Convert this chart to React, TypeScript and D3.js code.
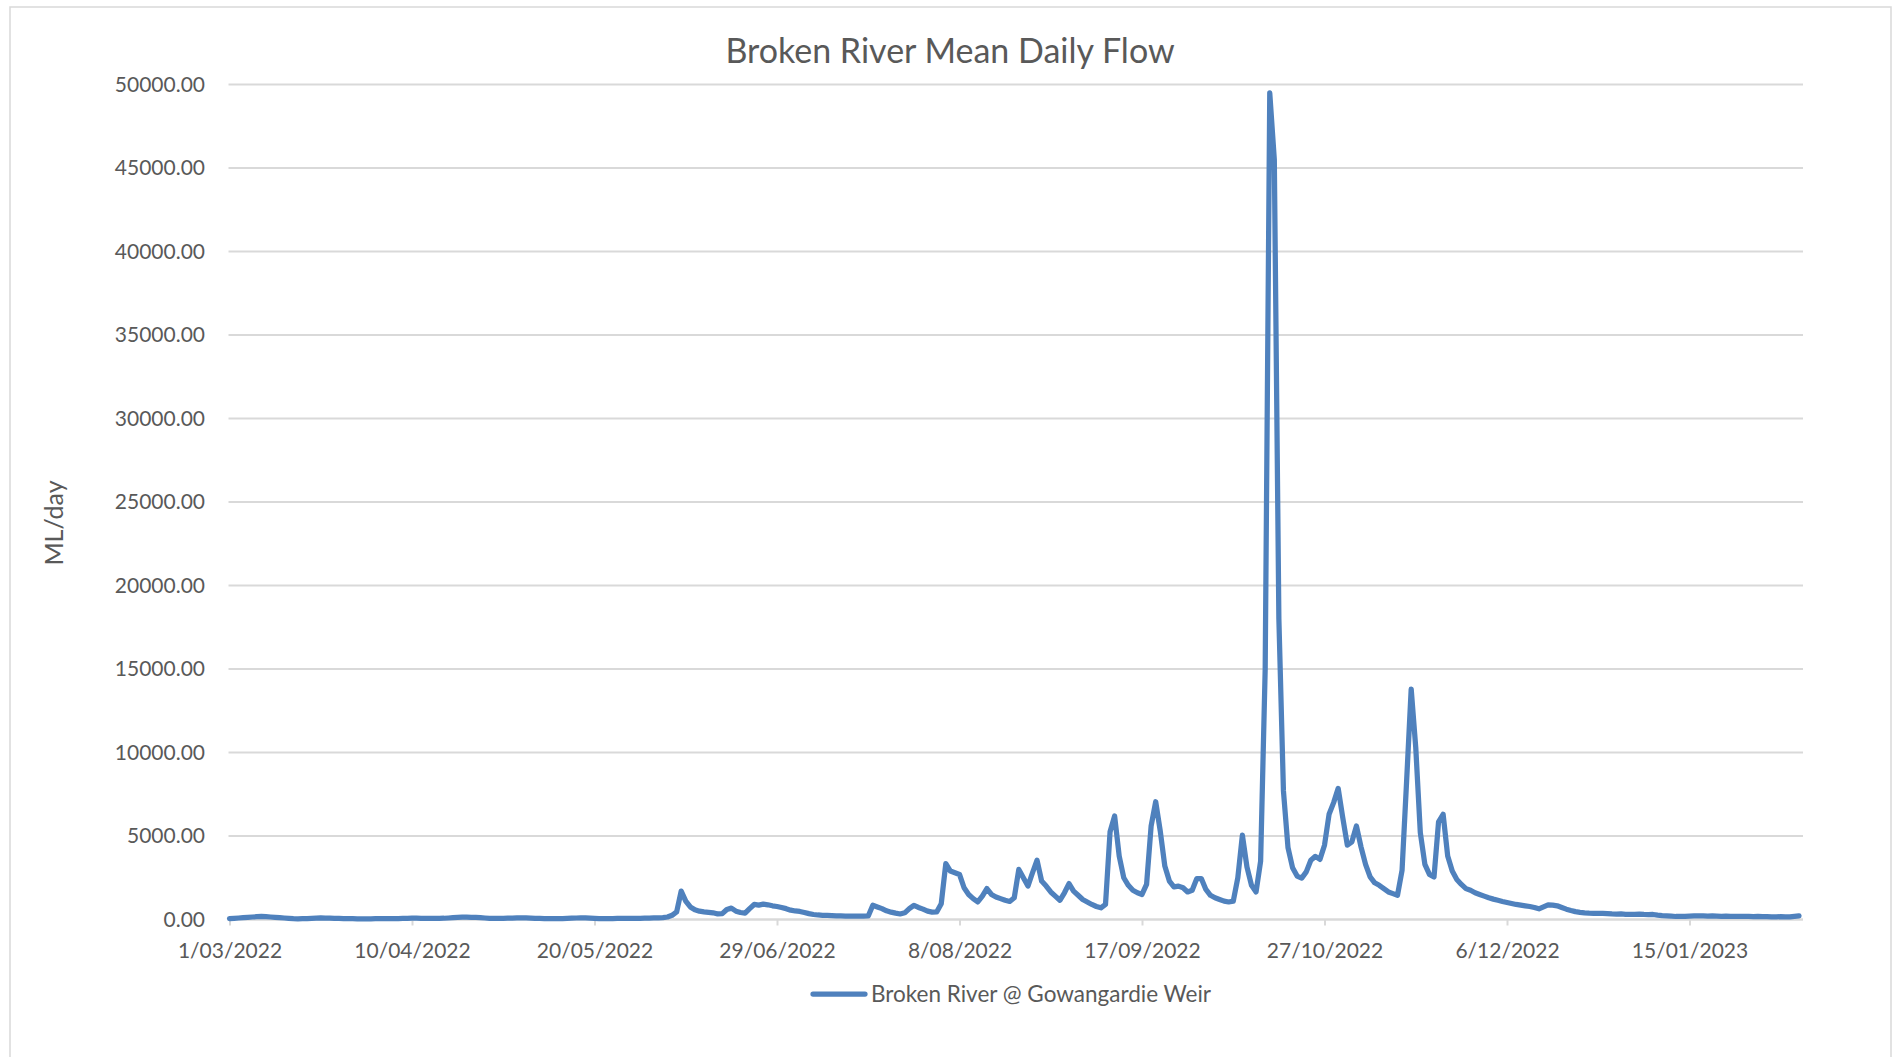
import { useEffect, useRef } from 'react';
import * as d3 from 'd3';

// Broken River @ Gowangardie Weir, mean daily flow (ML/day)
const startDate = new Date(2022, 2, 1);

const flowMar2022 = [50, 70, 90, 110, 130, 150, 165, 180, 170, 150, 130, 110, 90, 70, 50, 40, 45, 55, 70, 80, 90, 85, 75, 65, 60, 55, 50, 45, 40, 40, 40];
const flowApr2022 = [40, 45, 50, 50, 45, 45, 50, 60, 70, 75, 75, 70, 65, 70, 70, 70, 75, 90, 110, 130, 140, 140, 130, 120, 110, 90, 70, 60, 60, 65];
const flowMay2022 = [75, 85, 95, 100, 95, 85, 70, 60, 55, 50, 50, 50, 55, 65, 75, 90, 100, 95, 80, 65, 55, 50, 50, 55, 60, 65, 70, 70, 70, 70, 75];
const flowJun2022 = [85, 95, 100, 110, 150, 250, 450, 1700, 1100, 750, 580, 500, 460, 430, 400, 330, 350, 600, 680, 500, 420, 380, 650, 900, 860, 920, 880, 820, 780, 720];
const flowJul2022 = [650, 560, 510, 480, 420, 350, 300, 270, 250, 240, 225, 215, 210, 205, 200, 200, 200, 200, 210, 850, 750, 650, 520, 440, 380, 330, 400, 650, 850, 720, 620];
const flowAug2022 = [500, 440, 450, 950, 3350, 2900, 2800, 2700, 1900, 1500, 1250, 1050, 1400, 1850, 1500, 1350, 1250, 1150, 1080, 1300, 3000, 2500, 2000, 2800, 3550, 2300, 2000, 1650, 1400, 1150, 1600];
const flowSep2022 = [2150, 1700, 1450, 1200, 1050, 900, 780, 700, 900, 5250, 6200, 3800, 2500, 2050, 1750, 1600, 1500, 2100, 5600, 7050, 5300, 3200, 2300, 1950, 2000, 1900, 1650, 1750, 2450, 2450];
const flowOct2022 = [1800, 1450, 1300, 1200, 1100, 1050, 1100, 2500, 5050, 3150, 2050, 1650, 3500, 15000, 49500, 45500, 18000, 7700, 4300, 3100, 2600, 2480, 2850, 3550, 3780, 3600, 4450, 6300, 7000, 7850, 6100];
const flowNov2022 = [4450, 4650, 5600, 4350, 3300, 2550, 2200, 2050, 1850, 1650, 1550, 1450, 2950, 8300, 13800, 10300, 5200, 3300, 2700, 2550, 5850, 6300, 3800, 2900, 2400, 2100, 1850, 1750, 1600, 1500];
const flowDec2022 = [1400, 1300, 1220, 1150, 1080, 1020, 960, 900, 860, 820, 780, 720, 640, 760, 880, 860, 820, 720, 620, 540, 470, 430, 400, 380, 370, 360, 360, 350, 330, 320, 330];
const flowJan2023 = [310, 300, 300, 320, 300, 290, 300, 260, 230, 220, 200, 180, 180, 190, 200, 210, 220, 210, 200, 210, 200, 190, 200, 190, 180, 180, 190, 180, 170, 180, 170];
const flowFeb2023 = [170, 160, 160, 170, 160, 160, 190, 220];

const yTickValues = [0, 5000, 10000, 15000, 20000, 25000, 30000, 35000, 40000, 45000, 50000];
const xTickStepDays = 40;

const chartTitle = 'Broken River Mean Daily Flow';
const yAxisTitle = 'ML/day';
const seriesName = 'Broken River @ Gowangardie Weir';

const WIDTH = 1895;
const HEIGHT = 1057;
const FONT = 'Lato, "Open Sans", sans-serif';
const TEXT_COLOR = '#595959';
const GRID_COLOR = '#d9d9d9';
const LINE_COLOR = '#4f81bd';
const LINE_WIDTH = 5.25;

export default function App() {
  const svgRef = useRef<SVGSVGElement>(null);

  const getFlowDataList = () => {
    const values = [
      ...flowMar2022,
      ...flowApr2022,
      ...flowMay2022,
      ...flowJun2022,
      ...flowJul2022,
      ...flowAug2022,
      ...flowSep2022,
      ...flowOct2022,
      ...flowNov2022,
      ...flowDec2022,
      ...flowJan2023,
      ...flowFeb2023,
    ];
    return values.map((value, i) => ({ date: d3.timeDay.offset(startDate, i), value }));
  };

  const drawChart = (svgNode: SVGSVGElement) => {
    const svgEl = d3.select(svgNode);
    svgEl.selectAll('*').remove();

    const dataList = getFlowDataList();
    const endDate = dataList[dataList.length - 1].date;

    const plot = { left: 229.5, right: 1799, top: 84.5, bottom: 919.5 };

    const xScale = d3.scaleTime().domain([startDate, endDate]).range([plot.left, plot.right]);
    const yScale = d3.scaleLinear().domain([0, 50000]).range([plot.bottom, plot.top]);

    // chart area
    svgEl
      .append('rect')
      .attr('x', 0)
      .attr('y', 0)
      .attr('width', WIDTH)
      .attr('height', HEIGHT)
      .attr('fill', '#fff');
    svgEl
      .append('rect')
      .attr('x', 10)
      .attr('y', 7)
      .attr('width', 1881)
      .attr('height', 1060)
      .attr('fill', 'none')
      .attr('stroke', GRID_COLOR)
      .attr('stroke-width', 1.5);

    // gridlines
    svgEl
      .append('g')
      .selectAll('line')
      .data(yTickValues)
      .enter()
      .append('line')
      .attr('x1', plot.left - 1)
      .attr('x2', plot.right + 4)
      .attr('y1', (d) => yScale(d))
      .attr('y2', (d) => yScale(d))
      .attr('stroke', GRID_COLOR)
      .attr('stroke-width', 2);

    // y tick labels
    svgEl
      .append('g')
      .selectAll('text')
      .data(yTickValues)
      .enter()
      .append('text')
      .attr('x', 205)
      .attr('y', (d) => yScale(d))
      .attr('dy', '0.35em')
      .attr('text-anchor', 'end')
      .attr('font-family', FONT)
      .attr('font-size', 21)
      .attr('fill', TEXT_COLOR)
      .text((d) => d3.format('.2f')(d));

    // x axis
    const tickDates = d3.timeDay.range(startDate, d3.timeDay.offset(endDate, 1), xTickStepDays);
    const xAxis = d3
      .axisBottom(xScale)
      .tickValues(tickDates)
      .tickFormat((d) => d3.timeFormat('%-d/%m/%Y')(d as Date))
      .tickSize(6)
      .tickSizeOuter(0)
      .tickPadding(18);

    const xAxisEl = svgEl
      .append('g')
      .attr('transform', `translate(0, ${plot.bottom})`)
      .call(xAxis);
    xAxisEl.select('.domain').remove();
    xAxisEl
      .append('line')
      .attr('x1', plot.left - 1)
      .attr('x2', plot.right + 4)
      .attr('stroke', GRID_COLOR)
      .attr('stroke-width', 2);
    xAxisEl.selectAll('.tick line').attr('stroke', GRID_COLOR).attr('stroke-width', 2);
    xAxisEl
      .selectAll('.tick text')
      .attr('font-family', FONT)
      .attr('font-size', 21)
      .attr('fill', TEXT_COLOR);

    // series line
    const lineGenerator = d3
      .line<{ date: Date; value: number }>()
      .x((d) => xScale(d.date))
      .y((d) => yScale(d.value));

    svgEl
      .append('path')
      .datum(dataList)
      .attr('d', lineGenerator)
      .attr('fill', 'none')
      .attr('stroke', LINE_COLOR)
      .attr('stroke-width', LINE_WIDTH)
      .attr('stroke-linejoin', 'round')
      .attr('stroke-linecap', 'round');

    // title
    svgEl
      .append('text')
      .attr('x', 950)
      .attr('y', 51)
      .attr('dy', '0.35em')
      .attr('text-anchor', 'middle')
      .attr('font-family', FONT)
      .attr('font-size', 34)
      .attr('fill', TEXT_COLOR)
      .text(chartTitle);

    // y axis title
    svgEl
      .append('text')
      .attr('transform', `translate(54, 523) rotate(-90)`)
      .attr('dy', '0.35em')
      .attr('text-anchor', 'middle')
      .attr('font-family', FONT)
      .attr('font-size', 25)
      .attr('fill', TEXT_COLOR)
      .text(yAxisTitle);

    // legend
    const legendEl = svgEl.append('g').attr('transform', 'translate(813, 994)');
    legendEl
      .append('line')
      .attr('x1', 0)
      .attr('x2', 52)
      .attr('stroke', LINE_COLOR)
      .attr('stroke-width', LINE_WIDTH)
      .attr('stroke-linecap', 'round');
    legendEl
      .append('text')
      .attr('x', 58)
      .attr('dy', '0.35em')
      .attr('font-family', FONT)
      .attr('font-size', 22.5)
      .attr('fill', TEXT_COLOR)
      .text(seriesName);
  };

  useEffect(() => {
    if (svgRef.current) drawChart(svgRef.current);
  }, []);

  return (
    <div style={{ position: 'absolute', left: 0, top: 0, background: '#fff' }}>
      <svg ref={svgRef} width={WIDTH} height={HEIGHT} style={{ display: 'block' }} />
    </div>
  );
}
